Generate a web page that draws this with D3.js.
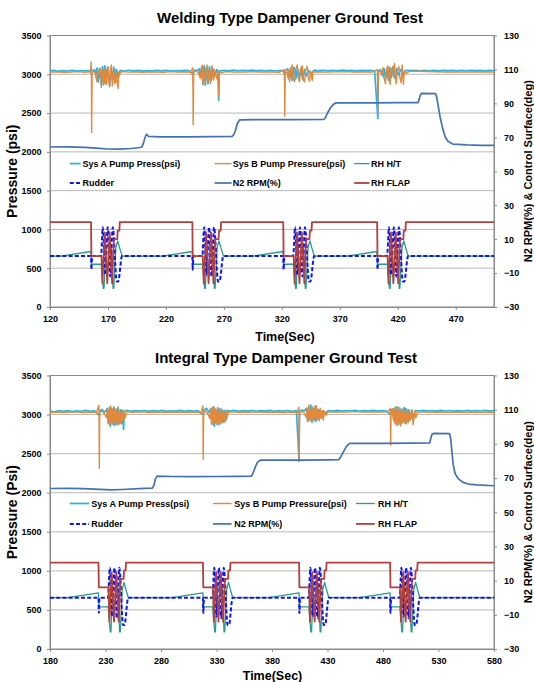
<!DOCTYPE html>
<html>
<head>
<meta charset="utf-8">
<script src="https://cdn.jsdelivr.net/npm/d3@7"></script>
<style>
	body {margin: 0; background: #fff}
	svg text {font-family: "Liberation Sans", Arial, sans-serif; font-weight: bold}
</style>
</head>
<body>
<svg id="chart" width="534" height="682"></svg>
<script>

//Tick labels
let pressTicks = [0, 500, 1000, 1500, 2000, 2500, 3000, 3500]
let degTicks = [-30, -10, 10, 30, 50, 70, 90, 110, 130]
let weldTimeTicks = [120, 170, 220, 270, 320, 370, 420, 470]
let integTimeTicks = [180, 230, 280, 330, 380, 430, 480, 530, 580]

let seriesNames = ["Sys A Pump Press(psi)", "Sys B Pump Pressure(psi)", "RH H/T", "Rudder", "N2 RPM(%)", "RH FLAP"]

//Welding type test [time(sec), value]
let weldSysA = [[120,3040],[123,3050],[127,3038],[131,3048],[135,3042],[139,3052],[143,3040],[147,3049],[151,3043],[155,3046],[155.9,3000],[156.4,3040],[158,3060],[159.5,3020],[160.5,3080],[161.5,2900],[162.5,3070],[164.3,2860],[165.3,3100],[166.3,2870],[167.3,3110],[168.6,2880],[169.6,3090],[171.5,2850],[172.5,3080],[173.8,2920],[175,3090],[176.5,2900],[177.5,3060],[178.7,2950],[180.5,3050],[184,3040],[188,3052],[192,3044],[196,3050],[200,3041],[204,3048],[208,3043],[212,3051],[216,3045],[220,3050],[224,3042],[228,3049],[232,3044],[236,3052],[240,3046],[243.5,3000],[244.5,3055],[246.5,3045],[248.5,3070],[249.7,2960],[250.7,3090],[252,2870],[253,3110],[254,2860],[255,3090],[256.3,2880],[257.5,3100],[259,2920],[260.5,3070],[262,2980],[264,3060],[265,3030],[265.5,2667],[266,3040],[270,3052],[274,3045],[278,3053],[282,3044],[286,3050],[290,3046],[294,3055],[298,3043],[302,3051],[306,3045],[310,3050],[314,3042],[318,3049],[321,3046],[322.5,3000],[323,3050],[325,3070],[326.5,2930],[327.5,3080],[329,2920],[330.5,3090],[332,2940],[333.5,3080],[335,2950],[336.5,3070],[338,2930],[339.5,3060],[341,2980],[343,3050],[345,3010],[348,3055],[352,3046],[356,3052],[360,3044],[364,3050],[368,3045],[372,3053],[376,3046],[380,3051],[384,3044],[388,3050],[392,3046],[396,3052],[400,3045],[402.8,2430],[403.2,3040],[405,3060],[407,2980],[408,3080],[409.5,2940],[410.5,3070],[412,2920],[413,3090],[414.5,2960],[416,3100],[417.5,2950],[419,3070],[420.5,2990],[422.5,3060],[424.5,3020],[427,3050],[431,3046],[435,3052],[439,3045],[443,3051],[447,3044],[451,3050],[455,3045],[459,3052],[463,3046],[467,3051],[471,3044],[475,3050],[479,3045],[483,3052],[487,3046],[491,3050],[495,3044],[499,3051],[503,3045]]

let weldSysB = [[120,3028],[126,3032],[132,3026],[138,3030],[144,3034],[150,3027],[155,3031],[155.5,3160],[155.7,3020],[155.9,2250],[156.3,3030],[157.5,3045],[159,3010],[160.5,2904],[161,3060],[162.5,2990],[163.5,3080],[164.3,2831],[164.8,3050],[165.5,2950],[166.3,2861],[166.8,3070],[167.6,2900],[168.6,2870],[169.2,3060],[170.1,3097],[170.6,2920],[171.5,2839],[172.1,3050],[173,3119],[173.8,2850],[174.5,3040],[175.8,2880],[176.5,3060],[177.3,2950],[178.7,2818],[179.3,3030],[180.3,3010],[182,3035],[188,3028],[194,3033],[200,3027],[206,3031],[212,3030],[218,3026],[224,3034],[230,3029],[236,3032],[241,3027],[243.2,3084],[243.5,2353],[243.9,3030],[246,3040],[248,3020],[249.7,2947],[250.3,3060],[251.4,3119],[252,2883],[252.8,3040],[254,2861],[254.7,3070],[255.5,3119],[256.3,2904],[257.2,3060],[258.3,2880],[259,3050],[259.8,3110],[260.5,2960],[261.2,2925],[262,3060],[263,2980],[264,2940],[264.7,3040],[265.5,2720],[266,3030],[267.9,3020],[271,3035],[278,3030],[286,3028],[294,3033],[302,3029],[310,3031],[318,3027],[322.2,3060],[322.5,2460],[322.9,3030],[324.5,3020],[325.3,2950],[326,3060],[326.7,2904],[327.5,3050],[329,3119],[329.8,2940],[331,2904],[331.8,3060],[333.3,3119],[334,2950],[335.3,2904],[336,3070],[337.6,3110],[338.4,2930],[339.6,2904],[340.4,3050],[341.9,3100],[342.7,2960],[343.9,2910],[344.7,3040],[346.2,2920],[346.8,3030],[350,3032],[358,3028],[366,3031],[374,3034],[382,3029],[390,3032],[398,3030],[402.4,3060],[402.8,2495],[403.2,3030],[405,3040],[406,3000],[407.1,3080],[408,2960],[409.4,2880],[410.2,3060],[411.4,3110],[412.3,2980],[413.4,2870],[414.3,3060],[415.7,3100],[416.4,2970],[417.2,3141],[418,2960],[418.6,2880],[419.6,3050],[420.9,3100],[421.7,2960],[422.9,2890],[423.8,3120],[424.3,2990],[424.9,2870],[425.5,3040],[426.5,3010],[430,3038],[438,3040],[446,3036],[454,3033],[462,3030],[470,3031],[478,3028],[486,3032],[494,3030],[503,3029]]

let weldN2 = [[120,64.3],[135,64.4],[150,64.1],[160,63.6],[170,63.1],[180,63],[190,63.4],[198,64],[199.5,64.5],[201,67.5],[202.5,71],[203.5,71.7],[205,70.5],[215,70.2],[240,70.3],[260,70.4],[277,70.6],[278.5,71.5],[280,74],[281.5,78],[283.7,80.3],[300,80.4],[330,80.4],[356,80.5],[357.5,81.5],[359.5,84.5],[362,87.5],[365,89.7],[367,90.3],[400,90.3],[420,90.4],[437.5,90.5],[438.5,92.5],[439.5,95],[440.5,95.9],[452.5,95.8],[453.5,94],[455,88],[456.5,82],[458.8,75],[461,70],[463.5,67.5],[467.5,66],[480,65.5],[492,65.3],[503,65.2]]

let weldFlap = [[120,20],[155.4,20],[155.7,0],[164.4,0],[165.2,-16],[167.3,14],[169.4,-16],[171.5,14],[173.6,-16],[175.1,10],[178,10],[178.4,15],[179.8,15],[180.2,20],
	[242.8,20],[243.1,0],[251.8,0],[252.6,-16],[254.7,14],[256.8,-16],[258.9,14],[261,-16],[262.5,10],[265.4,10],[265.8,15],[267.2,15],[267.6,20],
	[321.2,20],[321.5,0],[330.2,0],[331,-16],[333.1,14],[335.2,-16],[337.3,14],[339.4,-16],[340.9,10],[343.8,10],[344.2,15],[345.6,15],[346,20],
	[402.2,20],[402.5,0],[411.2,0],[412,-16],[414.1,14],[416.2,-16],[418.3,14],[420.4,-16],[421.9,10],[424.8,10],[425.2,15],[426.6,15],[427,20],[503,20]]

let weldRudder = [[120,0],[155.4,0],[155.7,-8],[156.3,0],[164,0],[165.6,17],[167.6,-11],[169.8,17],[172,-12],[174.1,17],[177.6,-15],[178.8,-15],[182.1,0],
	[242.8,0],[243.1,-8],[243.7,0],[251.4,0],[253,17],[255,-11],[257.2,17],[259.4,-12],[261.5,17],[265,-15],[266.2,-15],[269.5,0],
	[321.2,0],[321.5,-8],[322.1,0],[329.8,0],[331.4,17],[333.4,-11],[335.6,17],[337.8,-12],[339.9,17],[343.4,-15],[344.6,-15],[347.9,0],
	[402.2,0],[402.5,-8],[403.1,0],[410.8,0],[412.4,17],[414.4,-11],[416.6,17],[418.8,-12],[420.9,17],[424.4,-15],[425.6,-15],[428.9,0],[503,0]]

let weldHT = [[120,0],[129.6,0],[155.4,2.7],[155.7,-4.8],[164.2,-4.8],[166,-19],[166.6,-19],[168.2,6],[172.8,6],[174.4,-19],[175,-19],[176.8,5],[178.4,9],[180,5],[182.2,0],
	[217,0],[242.8,2.7],[243.1,-4.8],[251.6,-4.8],[253.4,-19],[254,-19],[255.6,6],[260.2,6],[261.8,-19],[262.4,-19],[264.2,5],[265.8,9],[267.4,5],[269.6,0],
	[295.4,0],[321.2,2.7],[321.5,-4.8],[330,-4.8],[331.8,-19],[332.4,-19],[334,6],[338.6,6],[340.2,-19],[340.8,-19],[342.6,5],[344.2,9],[345.8,5],[348,0],
	[376.4,0],[402.2,2.7],[402.5,-4.8],[411,-4.8],[412.8,-19],[413.4,-19],[415,6],[419.6,6],[421.2,-19],[421.8,-19],[423.6,5],[425.2,9],[426.8,5],[429,0],[503,0]]

//Integral type test [time(sec), value]
let integSysA = [[180,3045],[184,3035],[188,3052],[192,3040],[196,3050],[200,3038],[204,3048],[208,3042],[212,3054],[216,3040],[220,3050],[224.4,2990],[225,3050],[227,3065],[229,3030],[231.5,3070],[232.5,2900],[233.5,3090],[234.5,2850],[235.5,3080],[236.5,2880],[237.5,3095],[238.5,2860],[239.5,3070],[240.5,2870],[241.5,3085],[242.5,2890],[243.5,3060],[244.5,2880],[245.5,3050],[246.3,2811],[246.8,3040],[249,3055],[253,3042],[257,3051],[261,3044],[265,3052],[269,3040],[273,3050],[277,3043],[281,3054],[285,3041],[289,3049],[293,3044],[297,3053],[301,3040],[305,3050],[309,3045],[313,3052],[318,3000],[319,3060],[321,3080],[323,3030],[325,3080],[326,2880],[327,3095],[328,2850],[329,3070],[330,2880],[331,3090],[332,2870],[333,3075],[334,2890],[335,3060],[336,2900],[337,3050],[338.5,2930],[340,3050],[342,3045],[346,3053],[350,3041],[354,3050],[358,3044],[362,3052],[366,3040],[370,3050],[374,3045],[378,3053],[382,3042],[386,3050],[390,3044],[394,3052],[398,3041],[402,3050],[404.4,2400],[404.8,3040],[407,3060],[409,3045],[411,3080],[412,2920],[413,3100],[414,2930],[415,3120],[416,2900],[417,3080],[418,2930],[419,3110],[420,2920],[421,3070],[422,2940],[423,3060],[424.5,2960],[426,3050],[428,3020],[431,3052],[435,3046],[439,3055],[443,3044],[447,3052],[451,3046],[455,3054],[459,3043],[463,3051],[467,3045],[471,3053],[475,3044],[479,3051],[483,3046],[486.9,3000],[487.5,3060],[489,3070],[490,2920],[491,3090],[492,2880],[493,3100],[494,2870],[495,3080],[496,2880],[497,3070],[498,2900],[499,3090],[500,2890],[501,3070],[502,2910],[503,3060],[504.5,2930],[506,3060],[507.5,2940],[509,3050],[512,3046],[516,3054],[520,3045],[524,3052],[528,3044],[532,3053],[536,3046],[540,3052],[544,3044],[548,3051],[552,3046],[556,3053],[560,3044],[564,3052],[568,3046],[572,3053],[576,3045],[580,3050]]

let integSysB = [[180,3028],[186,3033],[192,3026],[198,3031],[204,3035],[210,3027],[216,3032],[222,3029],[224,3120],[224.2,3030],[224.4,2312],[224.8,3030],[226.5,3045],[228.5,3020],[231,2960],[231.6,3080],[232.4,2880],[233,3060],[233.8,2870],[234.6,3110],[235.4,2900],[236.2,3070],[237,2866],[237.8,3090],[238.6,2880],[239.4,3050],[240.3,2900],[241.2,3100],[242,2870],[242.9,3040],[243.8,2890],[244.7,3060],[245.6,2920],[246.5,3050],[247.5,2950],[249,3035],[255,3030],[262,3034],[270,3027],[278,3032],[286,3028],[294,3033],[302,3029],[310,3031],[316,3027],[317.8,3110],[318,2427],[318.4,3030],[320,3045],[322,3015],[324,2950],[324.6,3070],[325.4,2880],[326.2,3090],[327,2866],[327.8,3100],[328.6,2890],[329.4,3060],[330.3,2870],[331.2,3080],[332,2900],[332.9,3050],[333.8,2880],[334.7,3070],[335.6,2920],[336.5,3040],[337.5,2900],[338.5,3060],[339.5,2960],[340.5,3030],[343,3035],[350,3030],[358,3028],[366,3033],[374,3029],[382,3032],[390,3027],[398,3031],[403,3030],[404.2,3090],[404.4,2419],[404.8,3030],[407,3040],[409,3020],[411,2960],[411.6,3080],[412.4,2910],[413.2,3122],[414,2920],[414.8,3060],[415.7,2909],[416.5,3100],[417.3,2930],[418.2,3070],[419,2910],[419.9,3110],[420.8,2940],[421.6,3060],[422.5,2920],[423.4,3080],[424.3,2950],[425.2,3050],[426.2,2930],[427.2,3040],[428.5,2990],[430,3032],[438,3036],[446,3031],[454,3038],[462,3033],[470,3037],[478,3032],[484,3035],[486.6,3080],[486.9,2611],[487.3,3030],[488.4,3050],[489.2,2940],[490,3080],[490.8,2880],[491.6,3100],[492.4,2860],[493.2,3060],[494,2900],[494.9,3090],[495.8,2854],[496.6,3070],[497.5,2890],[498.4,3050],[499.3,2920],[500.2,3080],[501.1,2880],[502,3060],[503,2900],[504,3050],[505,2940],[506,3060],[507.2,2870],[508.3,3040],[509.5,2960],[511,3030],[516,3034],[524,3029],[532,3033],[540,3028],[548,3032],[556,3027],[564,3031],[572,3028],[580,3030]]

let integN2 = [[180,63.9],[195,64],[210,63.8],[225,63.4],[235,63.1],[245,63.3],[260,63.8],[272,64.1],[273.5,65.5],[275,69.5],[276.5,71.1],[290,70.9],[310,70.8],[330,70.9],[350,71],[361.5,71.1],[363,73],[365,76.5],[367,79.3],[369.5,80.5],[390,80.5],[410,80.5],[430,80.6],[440,80.7],[442,82.5],[444.5,85.5],[447,88.5],[450,90.3],[480,90.3],[505,90.4],[522,90.5],[523,93],[524,95.5],[525.5,96.1],[540,96],[541,93],[542,86],[543.2,78],[545,72.5],[548,69.5],[552,67.5],[557,66.5],[565,66],[580,65.5]]

let integFlap = [[180,20.5],[223.7,20.5],[224,6],[232.7,6],[233.5,-14],[235.6,15],[237.7,-14],[239.8,15],[241.9,-14],[243.4,11],[246.3,11],[246.7,16],[248.1,16],[248.5,20.5],
	[317.8,20.5],[318.1,6],[326.8,6],[327.6,-14],[329.7,15],[331.8,-14],[333.9,15],[336,-14],[337.5,11],[340.4,11],[340.8,16],[342.2,16],[342.6,20.5],
	[404.4,20.5],[404.7,6],[413.4,6],[414.2,-14],[416.3,15],[418.4,-14],[420.5,15],[422.6,-14],[424.1,11],[427,11],[427.4,16],[428.8,16],[429.2,20.5],
	[486.4,20.5],[486.7,6],[495.4,6],[496.2,-14],[498.3,15],[500.4,-14],[502.5,15],[504.6,-14],[506.1,11],[509,11],[509.4,16],[510.8,16],[511.2,20.5],[580,20.5]]

let integRudder = [[180,0],[223.7,0],[224,-9],[224.6,0],[232.3,0],[233.9,17.5],[235.9,-11],[238.1,17.5],[240.3,-12],[242.4,17.5],[245.9,-16],[247.1,-16],[250.4,0],
	[317.8,0],[318.1,-9],[318.7,0],[326.4,0],[328,17.5],[330,-11],[332.2,17.5],[334.4,-12],[336.5,17.5],[340,-16],[341.2,-16],[344.5,0],
	[404.4,0],[404.7,-9],[405.3,0],[413,0],[414.6,17.5],[416.6,-11],[418.8,17.5],[421,-12],[423.1,17.5],[426.6,-16],[427.8,-16],[431.1,0],
	[486.4,0],[486.7,-9],[487.3,0],[495,0],[496.6,17.5],[498.6,-11],[500.8,17.5],[503,-12],[505.1,17.5],[508.6,-16],[509.8,-16],[513.1,0],[580,0]]

let integHT = [[180,0],[196,0],[223.7,2.8],[224,-5.4],[232.5,-5.4],[234.3,-20],[234.9,-20],[236.5,6],[241.1,6],[242.7,-20],[243.3,-20],[245.1,5],[246.7,9],[248.3,5],[250.5,0],
	[290,0],[317.8,2.8],[318.1,-5.4],[326.6,-5.4],[328.4,-20],[329,-20],[330.6,6],[335.2,6],[336.8,-20],[337.4,-20],[339.2,5],[340.8,9],[342.4,5],[344.6,0],
	[377,0],[404.4,2.8],[404.7,-5.4],[413.2,-5.4],[415,-20],[415.6,-20],[417.2,6],[421.8,6],[423.4,-20],[424,-20],[425.8,5],[427.4,9],[429,5],[431.2,0],
	[459,0],[486.4,2.8],[486.7,-5.4],[495.2,-5.4],[497,-20],[497.6,-20],[499.2,6],[503.8,6],[505.4,-20],[506,-20],[507.8,5],[509.4,9],[511,5],[513.2,0],[580,0]]


let svg = d3.select("#chart")
let font = '"Liberation Sans", Arial, sans-serif'

//line styles in legend order
let styles = [
	{color: "#27b3e6", width: 1.7, dash: null, curve: d3.curveLinear},
	{color: "#e2893c", width: 1.4, dash: null, curve: d3.curveLinear},
	{color: "#2a9a8c", width: 1.3, dash: null, curve: d3.curveLinear},
	{color: "#0a14f5", width: 2, dash: "4,2.2", curve: d3.curveMonotoneX},
	{color: "#4471b4", width: 1.7, dash: null, curve: d3.curveLinear},
	{color: "#b2403d", width: 1.8, dash: null, curve: d3.curveLinear}
]

function drawChart(c) {

	let g = svg.append("g")

	//scales
	let xscale = d3.scaleLinear().domain(c.timeDomain).range([c.left, c.right])
	let yPress = d3.scaleLinear().domain([0, 3500]).range([c.bottom, c.top])
	let yDeg = d3.scaleLinear().domain([-30, 130]).range([c.bottom, c.top])

	//gridlines
	g.append("g").selectAll("line")
		.data(pressTicks.slice(1, -1))
		.enter()
		.append("line")
		.attr("x1", c.left)
		.attr("x2", c.right)
		.attr("y1", d => yPress(d))
		.attr("y2", d => yPress(d))
		.attr("stroke", "#b9b9b9")
		.attr("stroke-width", 1)

	//plot border
	g.append("rect")
		.attr("x", c.left)
		.attr("y", c.top)
		.attr("width", c.right - c.left)
		.attr("height", c.bottom - c.top)
		.attr("fill", "none")
		.attr("stroke", "#8a8a8a")

	//axes
	let styleAxis = a => {
		a.attr("font-size", 9).attr("font-family", font).attr("font-weight", "bold")
		a.select(".domain").attr("stroke", "#8a8a8a")
		a.selectAll(".tick line").attr("stroke", "#8a8a8a")
		a.selectAll(".tick text").attr("fill", "#000")
	}

	g.append("g")
		.attr("transform", "translate(" + c.left + ",0)")
		.call(d3.axisLeft(yPress).tickValues(pressTicks).tickFormat(d3.format("d")).tickSize(3).tickSizeOuter(0).tickPadding(5.5))
		.call(styleAxis)

	g.append("g")
		.attr("transform", "translate(" + c.right + ",0)")
		.call(d3.axisRight(yDeg).tickValues(degTicks).tickFormat(d3.format("d")).tickSize(3).tickSizeOuter(0).tickPadding(7))
		.call(styleAxis)

	g.append("g")
		.attr("transform", "translate(0," + c.bottom + ")")
		.call(d3.axisBottom(xscale).tickValues(c.timeTicks).tickFormat(d3.format("d")).tickSize(3).tickSizeOuter(0).tickPadding(6))
		.call(styleAxis)

	//series lines
	let series = [
		{data: c.sysA, y: yPress},
		{data: c.sysB, y: yPress},
		{data: c.ht, y: yDeg},
		{data: c.rudder, y: yDeg},
		{data: c.n2, y: yDeg},
		{data: c.flap, y: yDeg}
	]

	series.forEach((s, i) => {
		let valueLine = d3.line()
			.x(d => xscale(d[0]))
			.y(d => s.y(d[1]))
			.curve(styles[i].curve)

		g.append("path")
			.datum(s.data)
			.attr("d", valueLine)
			.attr("fill", "none")
			.attr("stroke", styles[i].color)
			.attr("stroke-width", styles[i].width)
			.attr("stroke-dasharray", styles[i].dash)
			.attr("stroke-linejoin", "round")
	})

	//legend
	seriesNames.forEach((name, i) => {
		let col = i % 3
		let row = Math.floor(i / 3)
		let ly = c.legendRows[row]
		g.append("line")
			.attr("x1", c.legendLines[col][0])
			.attr("x2", c.legendLines[col][1])
			.attr("y1", ly)
			.attr("y2", ly)
			.attr("stroke", styles[i].color)
			.attr("stroke-width", Math.min(styles[i].width, 2))
			.attr("stroke-dasharray", styles[i].dash)
		g.append("text")
			.attr("x", c.legendText[col])
			.attr("y", ly + 3.3)
			.attr("font-size", 9)
			.text(name)
	})

	//title
	g.append("text")
		.attr("x", c.titleX)
		.attr("y", c.titleY)
		.attr("text-anchor", "middle")
		.attr("font-size", 15)
		.text(c.title)

	//x axis label
	g.append("text")
		.attr("x", c.timeX)
		.attr("y", c.timeY)
		.attr("text-anchor", "middle")
		.attr("font-size", 12.5)
		.text("Time(Sec)")

	//y axis labels
	let midY = (c.top + c.bottom) / 2
	g.append("text")
		.attr("transform", "translate(17," + midY + ") rotate(-90)")
		.attr("text-anchor", "middle")
		.attr("font-size", 14)
		.text(c.pressLabel)

	g.append("text")
		.attr("transform", "translate(531.5," + midY + ") rotate(-90)")
		.attr("text-anchor", "middle")
		.attr("font-size", 11)
		.text("N2 RPM(%) & Control Surface(deg)")
}

drawChart({
	title: "Welding Type Dampener Ground Test",
	pressLabel: "Pressure (psi)",
	timeDomain: [120, 503], timeTicks: weldTimeTicks,
	left: 50, right: 494, top: 35.5, bottom: 307,
	titleX: 290, titleY: 22.5, timeX: 285, timeY: 341,
	legendRows: [163.6, 183],
	legendLines: [[69.8, 80.7], [214.6, 231.6], [354.2, 369.5]],
	legendText: [82.4, 232.8, 371],
	sysA: weldSysA, sysB: weldSysB, ht: weldHT, rudder: weldRudder, n2: weldN2, flap: weldFlap
})

drawChart({
	title: "Integral Type Dampener Ground Test",
	pressLabel: "Pressure (Psi)",
	timeDomain: [180, 580], timeTicks: integTimeTicks,
	left: 50, right: 494, top: 375.5, bottom: 649,
	titleX: 286, titleY: 363, timeX: 272.5, timeY: 680,
	legendRows: [503.5, 523.9],
	legendLines: [[69.8, 89.2], [212.9, 231.6], [355.9, 374.7]],
	legendText: [91.3, 234.3, 378],
	sysA: integSysA, sysB: integSysB, ht: integHT, rudder: integRudder, n2: integN2, flap: integFlap
})

</script>
</body>
</html>
